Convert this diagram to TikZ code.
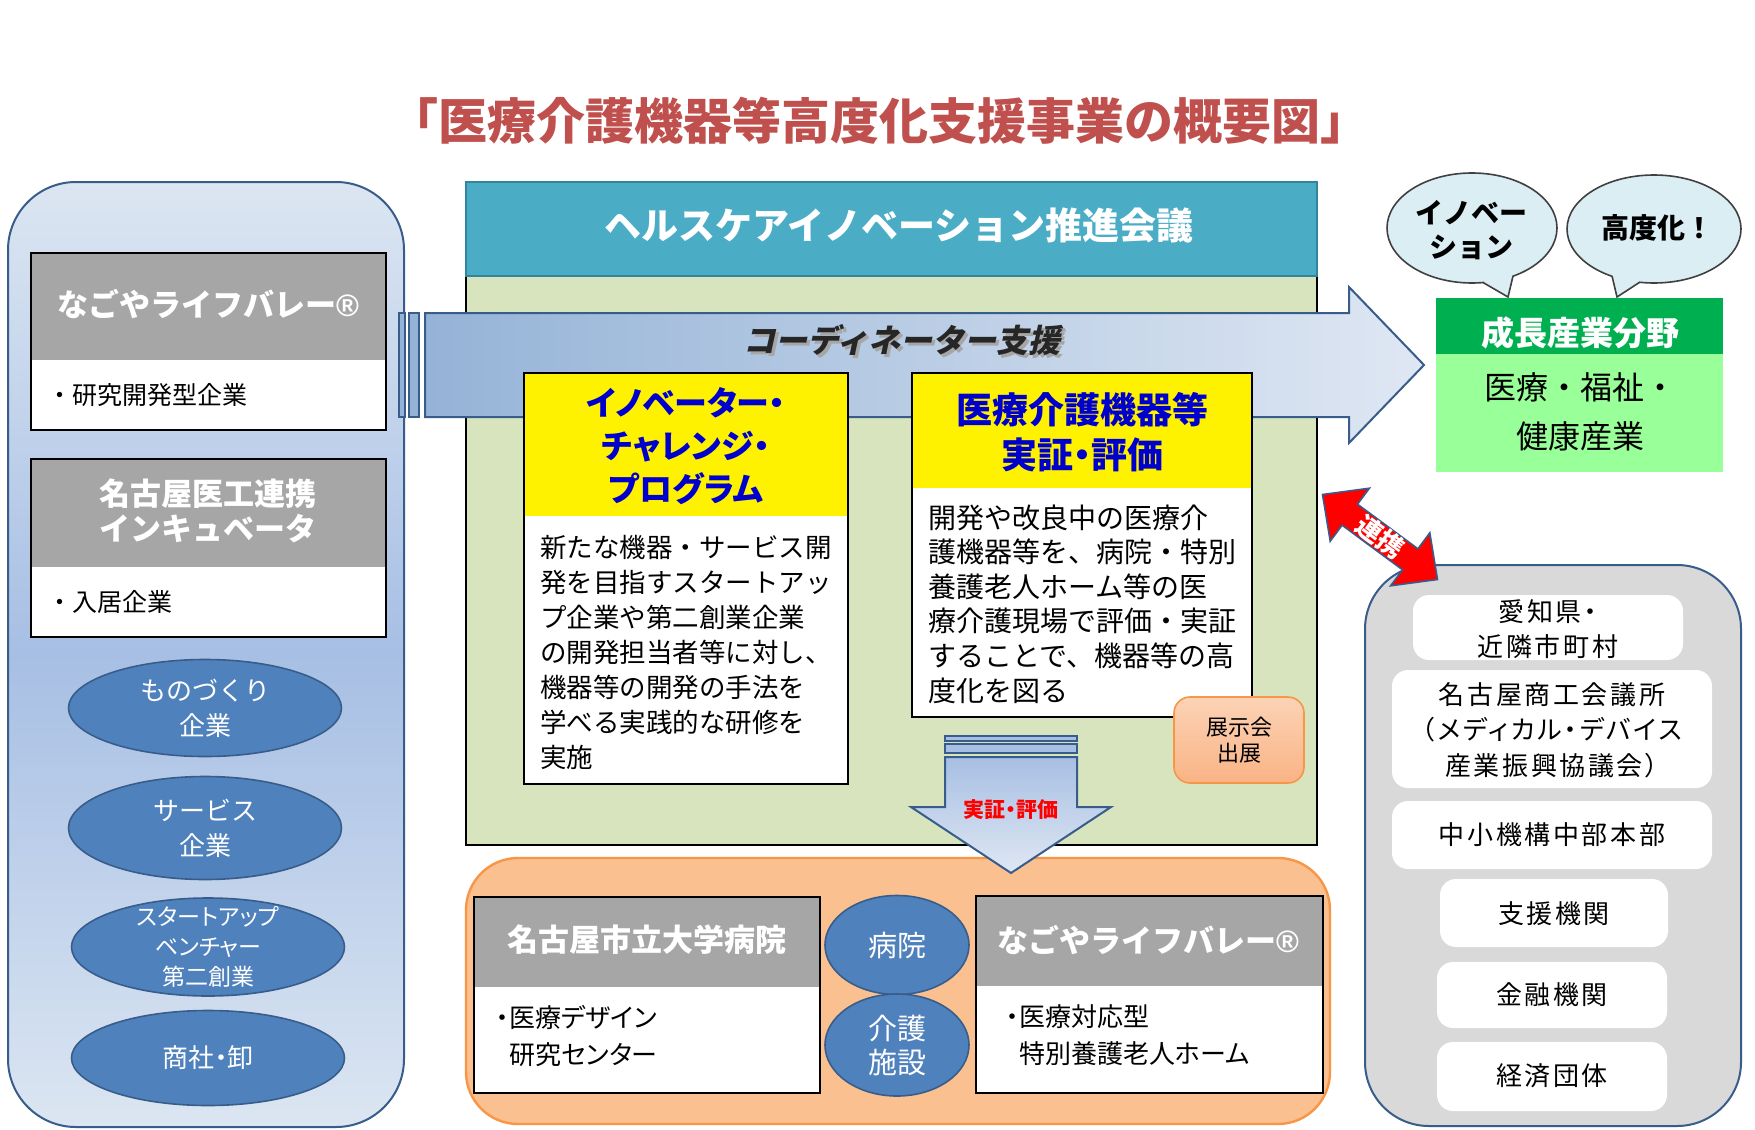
\documentclass[tikz,border=0pt]{standalone}
\usepackage{fontspec}
\newfontfamily\jp{Noto Sans CJK JP}
\newfontfamily\jpp[RawFeature=+palt]{Noto Sans CJK JP}
\newfontfamily\jpi[FakeSlant=0.22]{Noto Sans CJK JP}
\newfontfamily\jppw[RawFeature=+palt,LetterSpace=10]{Noto Sans CJK JP}
\newfontfamily\lat{Liberation Sans}
\newcommand\regmark{{\lat\bfseries ®}}
\usetikzlibrary{shapes.geometric}
\definecolor{tred}{HTML}{C0504D}
\definecolor{bdark}{HTML}{385D8A}
\definecolor{bmid}{HTML}{4F81BD}
\definecolor{blight}{HTML}{DCE6F2}
\definecolor{bgrad}{HTML}{A7BFE4}
\definecolor{tealc}{HTML}{4BACC6}
\definecolor{tealdk}{HTML}{31859C}
\definecolor{olive}{HTML}{D7E4BD}
\definecolor{hgray}{HTML}{A6A6A6}
\definecolor{tblue}{HTML}{0000CC}
\definecolor{orfill}{HTML}{FAC090}
\definecolor{orline}{HTML}{F79646}
\definecolor{extop}{HTML}{FCD3B6}
\definecolor{exbot}{HTML}{F9B385}
\definecolor{bub}{HTML}{DBEEF4}
\definecolor{dgreen}{HTML}{00B050}
\definecolor{lgreen}{HTML}{99FF99}
\definecolor{pgray}{HTML}{D9D9D9}
\definecolor{arrL}{HTML}{95B3D7}
\definecolor{arrR}{HTML}{DFE7F3}
\definecolor{darr}{HTML}{A7BFE3}
\begin{document}
\begin{tikzpicture}[x=0.5pt,y=-0.5pt,
  hdr/.style={text=white,inner sep=0,align=center,font=\jp\bfseries\fontsize{15.5}{17.5}\selectfont},
  bul/.style={anchor=west,inner sep=0,align=left,font=\jp\fontsize{12.5}{18.5}\selectfont},
  ell/.style={ellipse,draw=bdark,fill=bmid,line width=0.8pt,inner sep=0},
  elltxt/.style={text=white,inner sep=0,align=center},
  wbox/.style={fill=white,rounded corners=8pt},
  rtxt/.style={inner sep=0,align=center,font=\jppw\fontsize{13}{17.7}\selectfont},
  frame/.style={draw=black,line width=1.2pt},
  bubble/.style={fill=bub,draw=black!75,line width=0.8pt},
]
\useasboundingbox (0,0) rectangle (1755,1129);
\fill[white] (0,0) rectangle (1755,1129);

% title
\node[inner sep=0,text=tred,font=\jp\bfseries\fontsize{24.5}{26}\selectfont] (title) at (879,121) {「医療介護機器等高度化支援事業の概要図」};

% ---------- left panel ----------
\shade[top color=blight,bottom color=blight,middle color=bgrad,rounded corners=34pt] (8,182) rectangle (404,1127);
\draw[bdark,line width=1pt,rounded corners=34pt] (8,182) rectangle (404,1127);

\fill[white] (31,253) rectangle (386,430);
\fill[hgray] (31,253) rectangle (386,360);
\draw[frame] (31,253) rectangle (386,430);
\node[hdr] (lv1) at (208,304) {なごやライフバレー\regmark};
\node[bul] (lv1b) at (47,395) {・研究開発型企業};

\fill[white] (31,459) rectangle (386,637);
\fill[hgray] (31,459) rectangle (386,567);
\draw[frame] (31,459) rectangle (386,637);
\node[hdr] (inc) at (208,511) {名古屋医工連携\\インキュベータ};
\node[bul] (incb) at (47,602) {・入居企業};

\node[ell,minimum width=136.5pt,minimum height=48.5pt] (mono) at (205,708) {};
\node[elltxt,font=\jp\fontsize{13}{17.5}\selectfont] (monot) at (mono) {ものづくり\\企業};
\node[ell,minimum width=136.5pt,minimum height=51.5pt] (svc) at (205,828) {};
\node[elltxt,font=\jp\fontsize{13}{17.5}\selectfont] (svct) at (svc) {サービス\\企業};
\node[ell,minimum width=136.5pt,minimum height=49pt] (sta) at (208,947) {};
\node[elltxt,font=\jpp\fontsize{11.5}{15}\selectfont] (stat) at (sta) {スタートアップ\\ベンチャー\\第二創業};
\node[ell,minimum width=136.5pt,minimum height=47.5pt] (sho) at (208,1058) {};
\node[elltxt,font=\jpp\fontsize{13}{17.5}\selectfont] (shot) at (sho) {商社・卸};

% ---------- centre panel ----------
\filldraw[fill=olive,draw=black,line width=1pt] (466,276) rectangle (1317,845);
\filldraw[fill=tealc,draw=tealdk,line width=1pt] (466,182) rectangle (1317,276);
\node[inner sep=0,text=white,font=\jp\bfseries\fontsize{18.5}{20}\selectfont] (hic) at (899,225) {ヘルスケアイノベーション推進会議};

% coordinator arrow
\filldraw[fill=arrL,draw=bdark,line width=0.8pt] (399,313) rectangle (405,417);
\filldraw[fill=arrL,draw=bdark,line width=0.8pt] (409,313) rectangle (419,417);
\shade[left color=arrL,right color=arrR] (425,313) -- (1349,313) -- (1349,287) -- (1424,365) -- (1349,443) -- (1349,417) -- (425,417) -- cycle;
\draw[bdark,line width=1pt] (425,313) -- (1349,313) -- (1349,287) -- (1424,365) -- (1349,443) -- (1349,417) -- (425,417) -- cycle;
\node[inner sep=0,text=black!85,font=\jpi\bfseries\fontsize{16}{18}\selectfont] (coord) at (902,342) {\rlap{\kern1.5pt\raisebox{-1.5pt}{\textcolor{black!35}{コーディネーター支援}}}コーディネーター支援};

% left yellow box
\fill[white] (524,373) rectangle (848,784);
\fill[yellow] (524,373) rectangle (848,516);
\draw[frame] (524,373) rectangle (848,784);
\node[inner sep=0,align=center,text=tblue,font=\jpp\bfseries\fontsize{16.5}{21.5}\selectfont] (ichal) at (686,446) {イノベーター・\\チャレンジ・\\プログラム};
\node[anchor=west,inner sep=0,align=left,font=\jp\fontsize{13.25}{17.5}\selectfont] (ichalb) at (540,652) {新たな機器・サービス開\\発を目指すスタートアッ\\プ企業や第二創業企業\\の開発担当者等に対し、\\機器等の開発の手法を\\学べる実践的な研修を\\実施};

% right yellow box
\fill[white] (912,373) rectangle (1252,717);
\fill[yellow] (912,373) rectangle (1252,488);
\draw[frame] (912,373) rectangle (1252,717);
\node[inner sep=0,align=center,text=tblue,font=\jpp\bfseries\fontsize{18}{22.5}\selectfont] (jsk) at (1082,432) {医療介護機器等\\実証・評価};
\node[anchor=west,inner sep=0,align=left,font=\jp\fontsize{14}{17.3}\selectfont] (jskb) at (928,604) {開発や改良中の医療介\\護機器等を、病院・特別\\養護老人ホーム等の医\\療介護現場で評価・実証\\することで、機器等の高\\度化を図る};

% exhibition box
\shade[top color=extop,bottom color=exbot,rounded corners=8pt] (1174,697) rectangle (1304,783);
\draw[orline,line width=0.8pt,rounded corners=8pt] (1174,697) rectangle (1304,783);
\node[inner sep=0,align=center,font=\jp\fontsize{11}{13}\selectfont] (exh) at (1239,740) {展示会\\出展};

% ---------- bottom orange panel ----------
\filldraw[fill=orfill,draw=orline,line width=1.2pt,rounded corners=26pt] (466,858) rectangle (1330,1124);

% down arrow
\filldraw[fill=darr,draw=bdark,line width=0.8pt] (945,736) rectangle (1077,741);
\filldraw[fill=darr,draw=bdark,line width=0.8pt] (945,744) rectangle (1077,753);
\shade[top color=darr,bottom color=arrR] (945,757) -- (1077,757) -- (1077,807) -- (1111,807) -- (1011,873) -- (911,807) -- (945,807) -- cycle;
\draw[bdark,line width=1pt] (945,757) -- (1077,757) -- (1077,807) -- (1111,807) -- (1011,873) -- (911,807) -- (945,807) -- cycle;
\node[inner sep=0,text=red,font=\jpp\bfseries\fontsize{10.5}{12}\selectfont] (jshl) at (1011,810) {実証・評価};

% hospital box
\fill[white] (474,897) rectangle (820,1093);
\fill[hgray] (474,897) rectangle (820,987);
\draw[frame] (474,897) rectangle (820,1093);
\node[hdr] (nch) at (647,940) {名古屋市立大学病院};
\node[bul,font=\jpp\fontsize{13}{18.5}\selectfont] (nchb) at (496,1036) {・医療デザイン\\\phantom{・}研究センター};

% circles
\node[ell,minimum width=72pt,minimum height=49.5pt] (byo) at (897,945) {};
\node[elltxt,font=\jp\fontsize{14.5}{17}\selectfont] (byot) at (byo) {病院};
\node[ell,minimum width=72pt,minimum height=51pt] (kai) at (897,1045) {};
\node[elltxt,font=\jp\fontsize{14.5}{17}\selectfont] (kait) at (kai) {介護\\施設};

% nagoya life valley box bottom
\fill[white] (976,896) rectangle (1323,1093);
\fill[hgray] (976,896) rectangle (1323,986);
\draw[frame] (976,896) rectangle (1323,1093);
\node[hdr] (lv2) at (1148,940) {なごやライフバレー\regmark};
\node[bul,font=\jpp\fontsize{13}{18.5}\selectfont] (lv2b) at (1006,1035) {・医療対応型\\\phantom{・}特別養護老人ホーム};

% ---------- right side ----------
\draw[bubble] (1472,228) ellipse [x radius=42.5pt,y radius=27.5pt];
\fill[bub] (1483,282.5) -- (1508,297) -- (1513,276) -- (1498,268) -- cycle;
\draw[black!75,line width=0.8pt] (1483,282.5) -- (1508,297) -- (1513,276);
\node[inner sep=0,align=center,font=\jp\bfseries\fontsize{14}{17}\selectfont] (bub1) at (1471,230) {イノベー\\ション};

\draw[bubble] (1654,229) ellipse [x radius=43.5pt,y radius=27pt];
\fill[bub] (1612,276) -- (1617,297) -- (1640,282) -- (1626,266) -- cycle;
\draw[black!75,line width=0.8pt] (1612,276) -- (1617,297) -- (1640,282);
\node[inner sep=0,font=\jp\bfseries\fontsize{14}{17}\selectfont] (bub2) at (1657,228) {高度化！};

\fill[dgreen] (1436,298) rectangle (1723,354);
\fill[lgreen] (1436,354) rectangle (1723,472);
\node[inner sep=0,text=white,font=\jp\bfseries\fontsize{16.5}{18}\selectfont] (seicho) at (1580,333) {成長産業分野};
\node[inner sep=0,align=center,font=\jp\fontsize{16}{24.5}\selectfont] (seichob) at (1580,412) {医療・福祉・\\健康産業};

% grey panel
\filldraw[fill=pgray,draw=bdark,line width=1pt,rounded corners=32pt] (1365,565) rectangle (1741,1126);
\fill[wbox] (1413,595) rectangle (1683,660);
\node[rtxt] (aichi) at (1548,629) {愛知県・\\近隣市町村};
\fill[wbox] (1392,670) rectangle (1712,788);
\node[rtxt] (cci) at (1552,730) {名古屋商工会議所\\（メディカル・デバイス\\産業振興協議会）};
\fill[wbox] (1392,801) rectangle (1712,869);
\node[rtxt] (smrj) at (1552,835) {中小機構中部本部};
\fill[wbox] (1440,879) rectangle (1668,947);
\node[rtxt] (shien) at (1554,914) {支援機関};
\fill[wbox] (1437,962) rectangle (1667,1028);
\node[rtxt] (kinyu) at (1552,995) {金融機関};
\fill[wbox] (1437,1042) rectangle (1667,1111);
\node[rtxt] (keizai) at (1552,1076) {経済団体};

% red double arrow
\filldraw[fill=red,draw=bdark,line width=0.8pt] (1322.5,494.5) -- (1369.4,488.2) -- (1357.5,504.2) -- (1417.9,548.8) -- (1429.8,532.8) -- (1437.5,579.5) -- (1390.6,585.8) -- (1402.5,569.8) -- (1342.1,525.2) -- (1330.2,541.2) -- cycle;
\node[inner sep=0,text=white,rotate=-36.5,font=\jp\bfseries\fontsize{13}{15}\selectfont] (renkei) at (1380,537) {連携};
\end{tikzpicture}
\end{document}
